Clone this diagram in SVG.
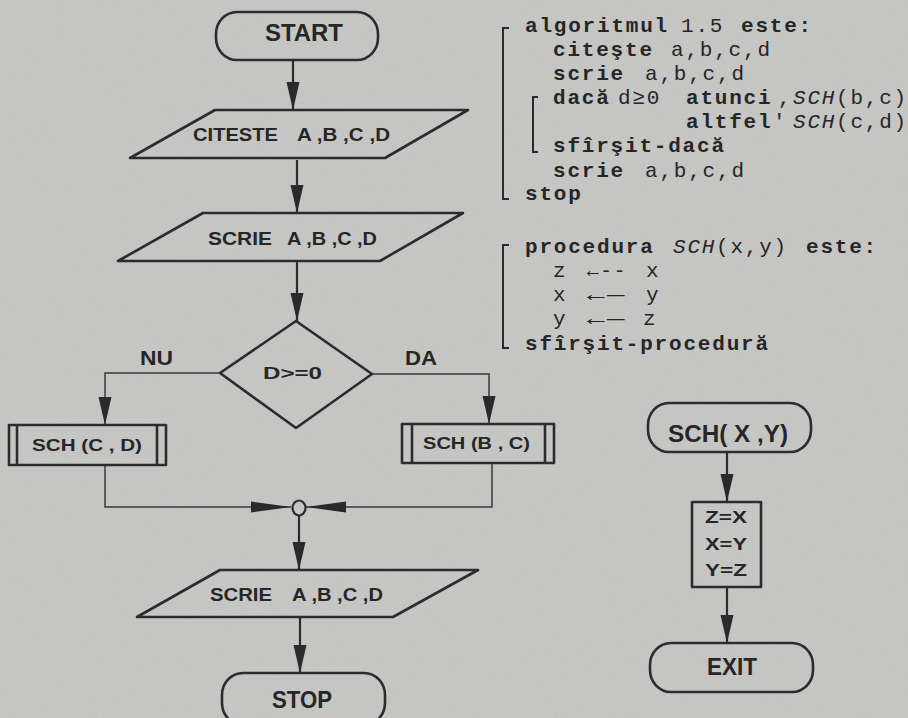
<svg xmlns="http://www.w3.org/2000/svg" width="908" height="718" viewBox="0 0 908 718">
<style>
.ln{fill:none;stroke:#2c2c2c;stroke-width:2.2;stroke-linejoin:miter}
.thin{fill:none;stroke:#3a3a3a;stroke-width:1.5}
.sh{fill:none;stroke:#2c2c2c;stroke-width:2.6;stroke-linejoin:round}
.ft{font-family:"Liberation Sans",Arial,sans-serif;font-weight:bold;fill:#262626}
.mono{font-family:"Liberation Mono","DejaVu Sans Mono",monospace;font-size:21px;letter-spacing:1.8px;fill:#262626}
.b{font-weight:bold}
.r{font-weight:normal}
.it{font-style:italic;font-weight:normal}
.br{fill:none;stroke:#2a2a2a;stroke-width:2}
</style>
<defs>
<marker id="av" markerUnits="userSpaceOnUse" markerWidth="28" markerHeight="14" refX="28" refY="7" orient="auto">
<path d="M0,0.5 L28,7 L0,13.5 z" fill="#2a2a2a"/>
</marker>
<marker id="ah" markerUnits="userSpaceOnUse" markerWidth="40" markerHeight="12" refX="40" refY="6" orient="auto">
<path d="M0,0.5 L40,6 L0,11.5 z" fill="#2a2a2a"/>
</marker>
<filter id="paper" x="0" y="0" width="100%" height="100%">
<feTurbulence type="fractalNoise" baseFrequency="0.85" numOctaves="2" seed="4"/>
<feColorMatrix type="saturate" values="0"/>
</filter>
</defs>
<rect x="0" y="0" width="908" height="718" fill="#c6c6c4"/>
<rect x="0" y="0" width="908" height="718" filter="url(#paper)" opacity="0.12"/>

<g id="connectors">
<path class="ln" d="M293,60 V110" marker-end="url(#av)"/>
<path class="ln" d="M297,160 V213" marker-end="url(#av)"/>
<path class="ln" d="M297,262 V321" marker-end="url(#av)"/>
<path class="thin" d="M220,373 H105 V425" marker-end="url(#av)"/>
<path class="thin" d="M372,374 H489 V424" marker-end="url(#av)"/>
<path class="thin" d="M105,466 V507 H291" marker-end="url(#ah)"/>
<path class="thin" d="M492,464 V507 H306" marker-end="url(#ah)"/>
<path class="ln" d="M299,516 V570" marker-end="url(#av)"/>
<path class="ln" d="M300,618 V673" marker-end="url(#av)"/>
<path class="ln" d="M727,452 V502" marker-end="url(#av)"/>
<path class="ln" d="M727,587 V643" marker-end="url(#av)"/>
</g>

<g id="start">
<rect class="sh" x="216" y="12" width="162" height="48" rx="21" ry="22"/>
<text class="ft" x="304" y="41" font-size="24" text-anchor="middle" textLength="78" lengthAdjust="spacingAndGlyphs">START</text>
</g>

<g id="read">
<polygon class="sh" points="215,110 468,110 385,158 130,158"/>
<text class="ft" x="193" y="141" font-size="18" textLength="85" lengthAdjust="spacingAndGlyphs">CITESTE</text>
<text class="ft" x="297" y="141" font-size="18" textLength="93" lengthAdjust="spacingAndGlyphs">A ,B ,C ,D</text>
</g>

<g id="write1">
<polygon class="sh" points="203,213 463,213 380,261 118,261"/>
<text class="ft" x="208" y="245" font-size="18" textLength="64" lengthAdjust="spacingAndGlyphs">SCRIE</text>
<text class="ft" x="287" y="245" font-size="18" textLength="90" lengthAdjust="spacingAndGlyphs">A ,B ,C ,D</text>
</g>

<g id="decision">
<polygon class="sh" points="296,321 372,374 296,428 220,373"/>
<text class="ft" x="263" y="379" font-size="17" textLength="59" lengthAdjust="spacingAndGlyphs">D&gt;=0</text>
</g>

<g id="label-nu">
<text class="ft" x="140" y="365" font-size="21" textLength="33" lengthAdjust="spacingAndGlyphs">NU</text>
</g>
<g id="label-da">
<text class="ft" x="405" y="365" font-size="21" textLength="32" lengthAdjust="spacingAndGlyphs">DA</text>
</g>

<g id="sch-cd">
<rect class="sh" x="9" y="425" width="157" height="40"/>
<line class="sh" x1="17" y1="425" x2="17" y2="465"/>
<line class="sh" x1="157" y1="425" x2="157" y2="465"/>
<text class="ft" x="32" y="451" font-size="17" textLength="110" lengthAdjust="spacingAndGlyphs">SCH (C , D)</text>
</g>

<g id="sch-bc">
<rect class="sh" x="402" y="424" width="152" height="39"/>
<line class="sh" x1="412" y1="424" x2="412" y2="463"/>
<line class="sh" x1="545" y1="424" x2="545" y2="463"/>
<text class="ft" x="423" y="449" font-size="17" textLength="107" lengthAdjust="spacingAndGlyphs">SCH (B , C)</text>
</g>

<g id="merge">
<ellipse class="ln" cx="299" cy="508" rx="6.5" ry="7.5"/>
</g>

<g id="write2">
<polygon class="sh" points="220,570 478,570 393,617 137,617"/>
<text class="ft" x="210" y="601" font-size="18" textLength="62" lengthAdjust="spacingAndGlyphs">SCRIE</text>
<text class="ft" x="292" y="601" font-size="18" textLength="91" lengthAdjust="spacingAndGlyphs">A ,B ,C ,D</text>
</g>

<g id="stop">
<rect class="sh" x="222" y="673" width="163" height="52" rx="21" ry="22"/>
<text class="ft" x="302" y="708" font-size="23" text-anchor="middle" textLength="60" lengthAdjust="spacingAndGlyphs">STOP</text>
</g>

<g id="sch-xy">
<rect class="sh" x="648" y="403" width="163" height="49" rx="21" ry="22"/>
<text class="ft" x="728" y="442" font-size="24" text-anchor="middle" textLength="120" lengthAdjust="spacingAndGlyphs">SCH( X ,Y)</text>
</g>

<g id="swap">
<rect class="sh" x="692" y="502" width="69" height="85"/>
<text class="ft" x="726" y="523" font-size="17" text-anchor="middle" textLength="42" lengthAdjust="spacingAndGlyphs">Z=X</text>
<text class="ft" x="726" y="550" font-size="17" text-anchor="middle" textLength="42" lengthAdjust="spacingAndGlyphs">X=Y</text>
<text class="ft" x="726" y="576" font-size="17" text-anchor="middle" textLength="42" lengthAdjust="spacingAndGlyphs">Y=Z</text>
</g>

<g id="exit">
<rect class="sh" x="650" y="643" width="163" height="49" rx="21" ry="22"/>
<text class="ft" x="732" y="675" font-size="23" text-anchor="middle" textLength="50" lengthAdjust="spacingAndGlyphs">EXIT</text>
</g>

<g id="algorithm">
<path class="br" d="M509,28 H503 V199 H509"/>
<path class="br" d="M538,97 H533 V152 H538"/>
<text class="mono" y="32"><tspan class="b" x="525">algoritmul</tspan><tspan class="r" x="681">1.5</tspan><tspan class="b" x="741">este:</tspan></text>
<text class="mono" y="56"><tspan class="b" x="553">citeşte</tspan><tspan class="r" x="671">a,b,c,d</tspan></text>
<text class="mono" y="80"><tspan class="b" x="553">scrie</tspan><tspan class="r" x="645">a,b,c,d</tspan></text>
<text class="mono" y="104"><tspan class="b" x="553">dacă</tspan><tspan class="r" x="618">d≥0</tspan><tspan class="b" x="686">atunci</tspan><tspan class="r" x="778">,</tspan><tspan class="it" x="793">SCH</tspan><tspan class="r" x="836">(b,c)</tspan></text>
<text class="mono" y="128"><tspan class="b" x="686">altfel</tspan><tspan class="r" x="773">'</tspan><tspan class="it" x="793">SCH</tspan><tspan class="r" x="836">(c,d)</tspan></text>
<text class="mono" y="152"><tspan class="b" x="553">sfîrşit-dacă</tspan></text>
<text class="mono" y="177"><tspan class="b" x="553">scrie</tspan><tspan class="r" x="645">a,b,c,d</tspan></text>
<text class="mono" y="200"><tspan class="b" x="525">stop</tspan></text>
</g>

<g id="procedure">
<path class="br" d="M509,245 H503 V348 H509"/>
<text class="mono" y="253"><tspan class="b" x="525">procedura</tspan><tspan class="it" x="673">SCH</tspan><tspan class="r" x="716">(x,y)</tspan><tspan class="b" x="806">este:</tspan></text>
<text class="mono" y="277"><tspan class="r" x="553">z</tspan><tspan class="r" x="587" textLength="40" lengthAdjust="spacingAndGlyphs">←--</tspan><tspan class="r" x="646">x</tspan></text>
<text class="mono" y="301"><tspan class="r" x="553">x</tspan><tspan class="r" x="587" textLength="40" lengthAdjust="spacingAndGlyphs">←—</tspan><tspan class="r" x="646">y</tspan></text>
<text class="mono" y="325"><tspan class="r" x="553">y</tspan><tspan class="r" x="587" textLength="40" lengthAdjust="spacingAndGlyphs">←—</tspan><tspan class="r" x="643">z</tspan></text>
<text class="mono" y="350"><tspan class="b" x="525">sfîrşit-procedură</tspan></text>
</g>
</svg>
